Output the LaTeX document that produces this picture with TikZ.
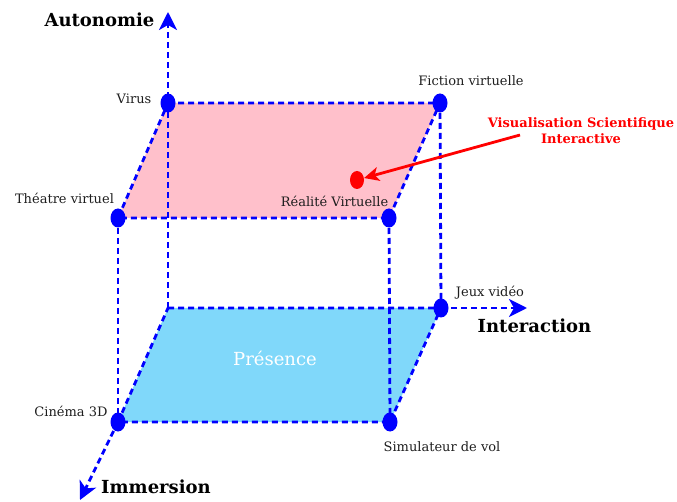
\documentclass[tikz,border=0pt]{standalone}
\usepackage{fontspec}
\setmainfont{DejaVu Serif}
\usetikzlibrary{shapes.geometric,arrows.meta,backgrounds}
\definecolor{skyface}{RGB}{128,216,250}
\definecolor{pinkface}{RGB}{255,192,203}
\definecolor{txt}{RGB}{30,30,30}
\begin{document}
\begin{tikzpicture}[x=1pt,y=-1pt,
  edge/.style={blue,line width=2.8pt,dash pattern=on 6pt off 4pt},
  axis/.style={edge,-{Stealth[length=18pt,width=18pt,inset=5pt]}},
  dot/.style={ellipse,fill=blue,minimum width=15pt,minimum height=19pt,inner sep=0pt},
  rdotstyle/.style={ellipse,fill=red,minimum width=14pt,minimum height=18pt,inner sep=0pt},
  lbl/.style={font=\fontsize{13}{15}\selectfont,anchor=base,inner sep=0pt,text=txt},
  axlbl/.style={font=\fontsize{18}{20}\selectfont\bfseries,anchor=base,inner sep=0pt},
  redlbl/.style={font=\fontsize{13}{16}\selectfont\bfseries,text=red,align=center,inner sep=0pt}]
\useasboundingbox (0,0) rectangle (677,502);
% dots
\node[dot] (virus) at (168,103) {};
\node[dot] (fiction) at (440,103) {};
\node[dot] (theatre) at (118,218) {};
\node[dot] (realite) at (389,218) {};
\node[dot] (jeux) at (441,308) {};
\node[dot] (cinema) at (118,422) {};
\node[dot] (simul) at (390,422) {};
\node[rdotstyle] (rdot) at (357,180) {};
\coordinate (corner) at (168,308);
\coordinate (autTip) at (168,12);
\coordinate (intTip) at (527,308);
\coordinate (immTip) at (80,500);
\coordinate (vsiStart) at (520,135);
\begin{scope}[on background layer]
  \fill[pinkface] (virus.center) -- (fiction.center) -- (realite.center) -- (theatre.center) -- cycle;
  \fill[skyface] (corner) -- (jeux.center) -- (simul.center) -- (cinema.center) -- cycle;
  \draw[edge] (virus.center) -- (fiction.center) -- (realite.center) -- (theatre.center) -- cycle;
  \draw[edge] (corner) -- (jeux.center) -- (simul.center) -- (cinema.center) -- cycle;
  \draw[edge] (fiction.center) -- (jeux.center);
  \draw[edge] (theatre.center) -- (cinema.center);
  \draw[edge] (realite.center) -- (simul.center);
  \draw[axis] (corner) -- (autTip);
  \draw[axis] (jeux.center) -- (intTip);
  \draw[axis] (cinema.center) -- (immTip);
\end{scope}
\draw[red,line width=2.8pt,-{Stealth[length=15pt,width=14pt,inset=4pt]}] (vsiStart) -- (rdot);
% labels
\node[axlbl] (lAut) at (99.5,27) {Autonomie};
\node[axlbl] (lInt) at (534.5,333) {Interaction};
\node[axlbl] (lImm) at (156,493) {Immersion};
\node[lbl] (lVirus) at (134,104) {Virus};
\node[lbl] (lFiction) at (471,86) {Fiction virtuelle};
\node[lbl] (lTheatre) at (64.5,204) {Théatre virtuel};
\node[lbl] (lRealite) at (334.5,207) {Réalité Virtuelle};
\node[lbl] (lJeux) at (490,297) {Jeux vidéo};
\node[lbl] (lCinema) at (71,416) {Cinéma 3D};
\node[lbl] (lSimul) at (442,451) {Simulateur de vol};
\node[lbl,text=white,font=\fontsize{18}{20}\selectfont] (lPres) at (275,366) {Présence};
\node[redlbl] (lVSI) at (581,131) {Visualisation Scientifique\\Interactive};
\end{tikzpicture}
\end{document}
